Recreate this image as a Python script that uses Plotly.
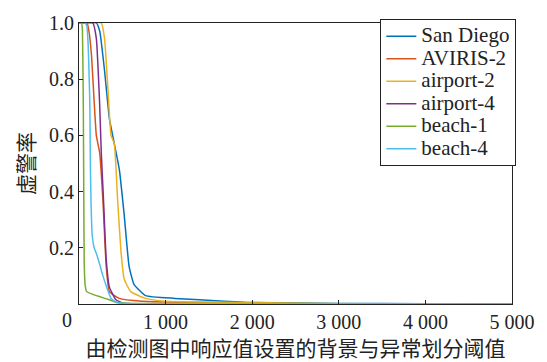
import plotly.graph_objects as go

names = ["San Diego", "AVIRIS-2", "airport-2", "airport-4", "beach-1", "beach-4"]
colors = ["#0072BD", "#D95319", "#EDB120", "#7E2F8E", "#77AC30", "#4DBEEE"]

sd_x = [0, 200, 240, 295, 351, 408, 465, 521, 578, 635, 767, 1107, 1675, 2015, 3000, 4000, 5000]
sd_y = [1, 1, 0.97, 0.83, 0.66, 0.57, 0.48, 0.32, 0.135, 0.07, 0.03, 0.02, 0.01, 0.005, 0.002, 0.001, 0]

av_x = [0, 93, 115, 144, 200, 238, 276, 314, 351, 465, 725, 1500, 2500, 5000]
av_y = [1, 1, 0.97, 0.886, 0.60, 0.54, 0.37, 0.135, 0.044, 0.02, 0.01, 0.005, 0.001, 0]

ap2_x = [0, 257, 295, 333, 370, 408, 446, 484, 521, 597, 767, 994, 2000, 3000, 5000]
ap2_y = [1, 1, 0.945, 0.77, 0.60, 0.57, 0.37, 0.19, 0.09, 0.044, 0.02, 0.01, 0.005, 0.001, 0]

ap4_x = [0, 159, 200, 238, 257, 283, 314, 351, 427, 510, 1000, 5000]
ap4_y = [1, 1, 0.945, 0.715, 0.54, 0.37, 0.16, 0.06, 0.015, 0.003, 0.001, 0]

b1_x = [0, 30, 40, 50, 55, 60, 70, 87, 150, 250, 350, 440, 600, 5000]
b1_y = [1, 1, 0.97, 0.7, 0.4, 0.15, 0.07, 0.045, 0.035, 0.025, 0.015, 0.005, 0.002, 0]

b4_x = [0, 70, 90, 106, 118, 125, 132, 140, 151, 175, 200, 240, 276, 320, 370, 440, 1000, 5000]
b4_y = [1, 1, 0.99, 0.92, 0.8, 0.715, 0.48, 0.35, 0.25, 0.2, 0.18, 0.14, 0.10, 0.06, 0.02, 0.005, 0.001, 0]

xs = [sd_x, av_x, ap2_x, ap4_x, b1_x, b4_x]
ys = [sd_y, av_y, ap2_y, ap4_y, b1_y, b4_y]

x_ticks = [1000, 2000, 3000, 4000, 5000]
x_ticktext = ["1 000", "2 000", "3 000", "4 000", "5 000"]
y_ticks = [0.2, 0.4, 0.6, 0.8, 1.0]
y_ticktext = ["0.2", "0.4", "0.6", "0.8", "1.0"]

serif = "Liberation Serif"
cjk = "Noto Sans CJK SC"

fig = go.Figure()
for n, c, x, y in zip(names, colors, xs, ys):
    fig.add_trace(go.Scatter(x=x, y=y, mode="lines",
                             name='<span style="font-size:21px">%s</span>' % n,
                             line=dict(color=c, width=1.5, shape="spline", smoothing=0.4)))

fig.update_layout(
    width=547, height=362,
    margin=dict(l=79, r=27, t=18, b=56),
    paper_bgcolor="white", plot_bgcolor="white",
    font=dict(family=serif, size=20, color="#222"),
    legend=dict(x=1.01, y=1.014, xanchor="right", yanchor="top",
                bordercolor="#222", borderwidth=1, bgcolor="white",
                font=dict(family=serif, size=15), tracegroupgap=0,
                itemwidth=30),
    showlegend=True,
)
fig.update_xaxes(range=[0, 5000], tickvals=x_ticks, ticktext=x_ticktext,
                 ticks="inside", ticklen=4, tickcolor="#222",
                 showline=True, linecolor="#222", linewidth=1, mirror=True,
                 showgrid=False, zeroline=False,
                 tickfont=dict(family=serif, size=20),
                 title=dict(text="由检测图中响应值设置的背景与异常划分阈值",
                            font=dict(family=cjk, size=21), standoff=2))
fig.update_yaxes(range=[0, 1], tickvals=y_ticks, ticktext=y_ticktext,
                 ticks="inside", ticklen=4, tickcolor="#222",
                 showline=True, linecolor="#222", linewidth=1, mirror=True,
                 showgrid=False, zeroline=False,
                 tickfont=dict(family=serif, size=20),
                 title=dict(text="虚警率", font=dict(family=cjk, size=21), standoff=8))
fig.add_annotation(x=0, y=0, xref="x", yref="y", text="0", showarrow=False,
                   xshift=-12, yshift=-16, font=dict(family=serif, size=20, color="#222"))

fig.write_html("out.html")
